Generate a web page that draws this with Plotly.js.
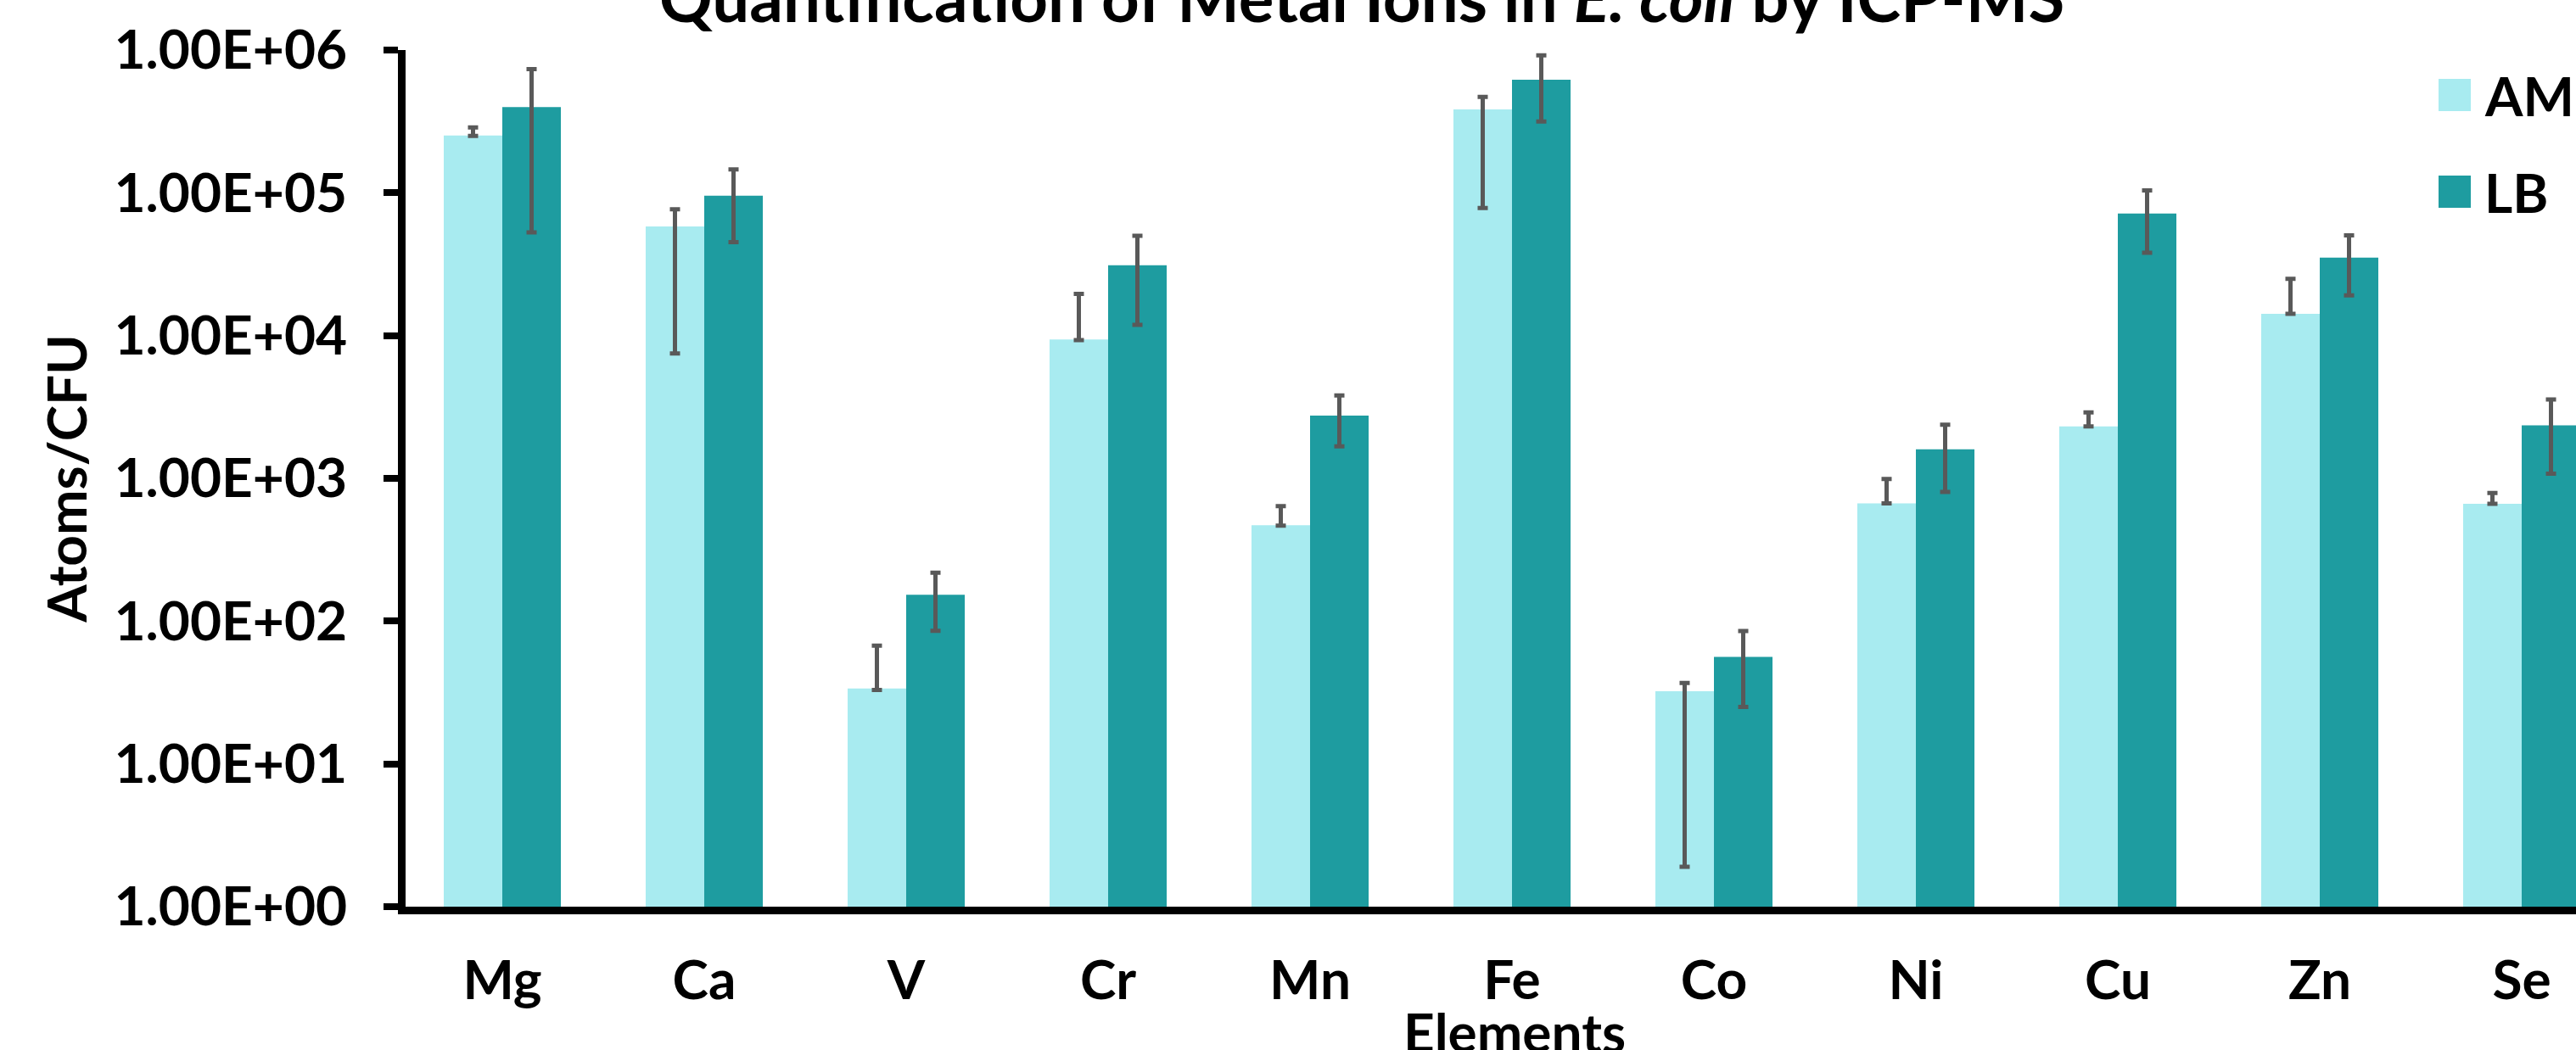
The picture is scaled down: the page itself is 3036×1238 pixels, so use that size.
<!DOCTYPE html>
<html><head><meta charset="utf-8">
<script src="https://cdn.plot.ly/plotly-3.0.1.min.js"></script>
<style>html,body{margin:0;padding:0;overflow:hidden;background:#fff;}#chart{width:3100px;height:1238px;}</style>
</head><body><div id="chart"></div>
<script>
// ---- data ----
const elements = ['Mg','Ca','V','Cr','Mn','Fe','Co','Ni','Cu','Zn','Se'];
const seriesNames = ['AM','LB'];
const amValues   = [252000, 58200, 33.7, 9400, 469, 384000, 32.3, 669, 2310, 14200, 664];
const amErrPlus  = [35000, 18500, 33.6, 10200, 169, 85000, 4.6, 321, 586, 10800, 126];
const amErrMinus = [2000, 50700, 0.7, 90, 2, 305700, 30.4, 0, 0, 0, 0];
const lbValues   = [398000, 95500, 153, 31100, 2750, 619000, 56.1, 1600, 71500, 35100, 2350];
const lbErrPlus  = [338000, 50500, 65, 18900, 1060, 299000, 29.2, 775, 32500, 15300, 1220];
const lbErrMinus = [345100, 50300, 67.6, 19200, 1072, 303000, 31, 797, 33400, 16000, 1273];
const yTickVals = [1, 10, 100, 1000, 10000, 100000, 1000000];
const yTickText = ['1.00E+00','1.00E+01','1.00E+02','1.00E+03','1.00E+04','1.00E+05','1.00E+06'];
const titleText = 'Quantification of Metal Ions in <i>E. coli</i> by ICP-MS';
const xTitleText = 'Elements';
const yTitleText = 'Atoms/CFU';

// ---- styling ----
const colors = ['#A8EBF0', '#1E9CA0'];
const errColor = '#595959';
const FONT = 'Lato, "Open Sans", sans-serif';
const FS = 64;
const W = 3100, H = 1238, L = 478, R = 9, T = 59, B = 169;
const PW = W - L - R, PH = H - T - B;
const px2x = p => (p - L) / PW;
const px2y = p => 1 - (p - T) / PH;
const boldFont = {family: FONT, size: FS, color: '#000', weight: 700};

function barTrace(name, vals, plus, minus, color) {
  return {
    type: 'bar', name: name, x: elements, y: vals,
    marker: {color: color, line: {width: 0}},
    error_y: {type: 'data', symmetric: false, array: plus, arrayminus: minus,
              color: errColor, thickness: 5, width: 6},
    showlegend: false, hoverinfo: 'x+y+name'
  };
}
const data = [
  barTrace(seriesNames[0], amValues, amErrPlus, amErrMinus, colors[0]),
  barTrace(seriesNames[1], lbValues, lbErrPlus, lbErrMinus, colors[1])
];

// manual legend (large square swatches)
const legendRows = [112, 226];
const shapes = [], annotations = [];
seriesNames.forEach((n, i) => {
  const cy = legendRows[i];
  shapes.push({type: 'rect', xref: 'paper', yref: 'paper',
    x0: px2x(2874), x1: px2x(2912), y0: px2y(cy + 19), y1: px2y(cy - 19),
    fillcolor: colors[i], line: {width: 0}});
  annotations.push({xref: 'paper', yref: 'paper', x: px2x(2926), y: px2y(cy),
    xanchor: 'left', yanchor: 'middle', showarrow: false, text: n, font: boldFont});
});
// x-axis title (placed as annotation so it can sit partly below the picture edge)
annotations.push({xref: 'paper', yref: 'paper', x: 0.5, y: px2y(1176),
  xanchor: 'center', yanchor: 'top', showarrow: false, text: xTitleText, font: boldFont});

const layout = {
  width: W, height: H,
  margin: {l: L, r: R, t: T, b: B, autoexpand: false},
  paper_bgcolor: '#fff', plot_bgcolor: '#fff',
  font: boldFont,
  title: {text: titleText, font: {family: FONT, size: 78, color: '#000', weight: 700},
          xref: 'container', x: 1605 / W, xanchor: 'center',
          yref: 'container', y: 1 - 26 / H, yanchor: 'bottom'},
  barmode: 'group', bargap: 0.42, bargroupgap: 0,
  xaxis: {
    type: 'category', range: [-0.479, 10.5], automargin: false,
    showline: true, linecolor: '#000', linewidth: 9,
    ticks: '', showgrid: false, zeroline: false,
    tickfont: boldFont, ticklabelstandoff: 23
  },
  yaxis: {
    type: 'log', range: [0, 6], automargin: false,
    showline: true, linecolor: '#000', linewidth: 9,
    ticks: 'outside', ticklen: 17, tickwidth: 8, tickcolor: '#000',
    tickvals: yTickVals, ticktext: yTickText,
    showgrid: false, zeroline: false,
    tickfont: boldFont, ticklabelstandoff: 30,
    title: {text: yTitleText, standoff: 15, font: boldFont}
  },
  shapes: shapes, annotations: annotations
};

Plotly.newPlot('chart', data, layout, {displayModeBar: false, staticPlot: true});
</script>
</body></html>
